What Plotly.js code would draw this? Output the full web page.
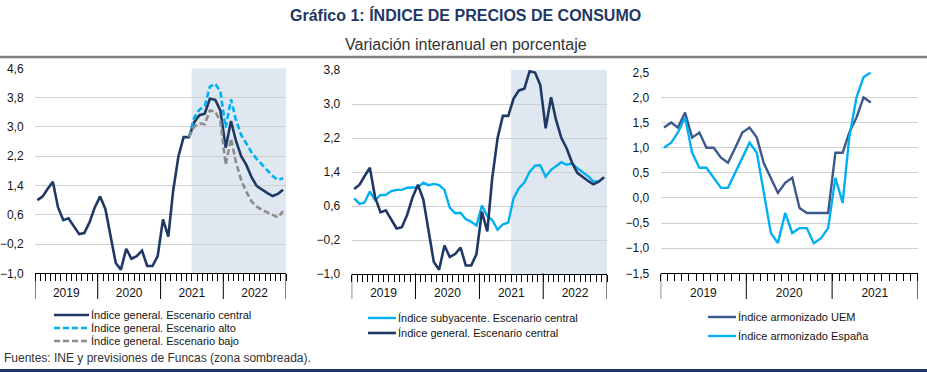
<!DOCTYPE html>
<html><head><meta charset="utf-8">
<script src="https://cdn.plot.ly/plotly-3.0.1.min.js"></script>
<style>html,body{margin:0;padding:0;background:#fff}#chart{width:927px;height:372px}</style>
</head><body><div id="chart"></div>
<script>
// ---------- DATA ----------
const years12 = ['2019', '2020', '2021', '2022'];
const years3 = ['2019', '2020', '2021'];
const forecastStart = '2021-07';   // first forecast month (shaded zone)
const scenarioStart = '2021-06';   // scenarios start from last observed month

// Índice general, escenario central (Jan 2019 - Dec 2022)
const generalCentral = [1.0, 1.1, 1.3, 1.5, 0.8, 0.45, 0.5, 0.3, 0.07, 0.1, 0.4, 0.8,
  1.1, 0.75, 0.0, -0.72, -0.9, -0.33, -0.6, -0.53, -0.38, -0.8, -0.8, -0.53,
  0.47, 0.0, 1.25, 2.2, 2.72, 2.72, 3.12, 3.32, 3.36, 3.77, 3.74, 3.45,
  2.43, 3.16, 2.63, 2.2, 1.96, 1.62, 1.38, 1.28, 1.19, 1.11, 1.17, 1.28];
// Escenario alto (from Jun 2021)
const generalAlto = [2.72, 3.25, 3.47, 3.57, 4.1, 4.18, 3.97, 2.98, 3.75, 3.2, 2.78, 2.55,
  2.3, 2.12, 1.97, 1.83, 1.66, 1.55, 1.6];
// Escenario bajo (from Jun 2021)
const generalBajo = [2.72, 3.0, 3.1, 3.07, 3.45, 3.42, 3.15, 1.97, 2.68, 2.05, 1.55, 1.23,
  0.96, 0.82, 0.73, 0.66, 0.58, 0.53, 0.7];
// Índice subyacente, escenario central (Jan 2019 - Dec 2022)
const subyacente = [0.78, 0.65, 0.68, 0.94, 0.74, 0.86, 0.86, 0.95, 0.98, 0.98, 1.03, 1.03,
  1.04, 1.15, 1.09, 1.12, 1.09, 0.98, 0.56, 0.43, 0.44, 0.29, 0.23, 0.14,
  0.61, 0.36, 0.27, 0.04, 0.17, 0.21, 0.78, 1.02, 1.15, 1.4, 1.55, 1.56,
  1.29, 1.45, 1.53, 1.63, 1.57, 1.6, 1.49, 1.4, 1.3, 1.18, 1.18, 1.27];
// IPCA UEM y España (Jan 2019 - Jun 2021)
const ipcaUEM = [1.4, 1.5, 1.4, 1.7, 1.2, 1.3, 1.0, 1.0, 0.8, 0.7, 1.0, 1.3,
  1.4, 1.2, 0.7, 0.4, 0.1, 0.3, 0.4, -0.2, -0.3, -0.3, -0.3, -0.3,
  0.9, 0.9, 1.3, 1.6, 2.0, 1.9];
const ipcaEspana = [1.0, 1.1, 1.3, 1.6, 0.9, 0.6, 0.6, 0.4, 0.2, 0.2, 0.5, 0.8,
  1.1, 0.9, 0.1, -0.7, -0.9, -0.3, -0.7, -0.6, -0.6, -0.9, -0.8, -0.6,
  0.4, -0.1, 1.2, 2.0, 2.4, 2.5];

// ---------- HELPERS ----------
function monthList(y0, n) {
  const out = [];
  for (let i = 0; i < n; i++) {
    const y = y0 + Math.floor(i / 12), m = (i % 12) + 1;
    out.push(y + '-' + String(m).padStart(2, '0'));
  }
  return out;
}
const months = monthList(2019, 48);
const mid = m => m + '-15';
const xAll = months.map(mid);
const scenIdx = months.indexOf(scenarioStart);
const xScen = months.slice(scenIdx).map(mid);
const x3 = months.slice(0, ipcaUEM.length).map(mid);

const W = 927, H = 372;
const FONT = 'Liberation Sans, Arial, sans-serif';
const TXT = '#141414';
const NAVY = '#1f3864', LIGHT = '#00b0f0', GREY = '#8c8c8c', UEM = '#3b5a8a';
const AXIS_Y = 273.3;    // pixel row of x axes
const SEP_Y = 299;       // bottom of year separators

const yearBounds = yrs => yrs.map(y => y + '-01-01').concat([(+yrs[yrs.length - 1] + 1) + '-01-01']);

function mainX(domain, yrs, yname) {
  const b = yearBounds(yrs);
  return {
    domain: domain, anchor: yname, type: 'date', range: [b[0], b[b.length - 1]],
    showgrid: false, zeroline: false, showline: true, linecolor: '#000', linewidth: 1,
    tickmode: 'linear', tick0: yrs[0] + '-07-02', dtick: 'M12', tickformat: '%Y',
    ticks: 'outside', ticklen: 8, tickcolor: 'rgba(0,0,0,0)',
    tickfont: {family: FONT, size: 12, color: TXT}, fixedrange: true,
    minor: {ticks: 'outside', ticklen: 7, tickwidth: 1, tickcolor: '#000', dtick: 'M1',
      tick0: b[0], showgrid: false}
  };
}
function yAx(domain, range, dtick, xname) {
  return {
    domain: domain, anchor: xname, range: range, tick0: range[0], dtick: dtick, tickformat: '.1f',
    showgrid: true, gridcolor: '#d0d0d0', gridwidth: 1, zeroline: false, showline: false,
    ticks: 'outside', ticklen: 8, tickcolor: 'rgba(0,0,0,0)',
    tickfont: {family: FONT, size: 12, color: TXT}, fixedrange: true
  };
}
const dx = (a, b) => [a / W, b / W];
const dy = (top, bottom) => [1 - bottom / H, 1 - top / H];
const py = p => 1 - p / H;

const traces = [
  {x: xAll, y: generalCentral, xaxis: 'x', yaxis: 'y',
   name: 'Índice general. Escenario central', line: {color: NAVY, width: 2.6}},
  {x: xScen, y: generalAlto, xaxis: 'x', yaxis: 'y',
   name: 'Índice general. Escenario alto', line: {color: LIGHT, width: 2.6, dash: '6px,3px'}},
  {x: xScen, y: generalBajo, xaxis: 'x', yaxis: 'y',
   name: 'Índice general. Escenario bajo', line: {color: GREY, width: 2.6, dash: '6px,3px'}},
  {x: xAll, y: subyacente, xaxis: 'x2', yaxis: 'y2',
   name: 'Índice subyacente. Escenario central', line: {color: LIGHT, width: 2.4}},
  {x: xAll, y: generalCentral, xaxis: 'x2', yaxis: 'y2',
   name: 'Índice general. Escenario central', line: {color: NAVY, width: 2.6}},
  {x: x3, y: ipcaUEM, xaxis: 'x3', yaxis: 'y3',
   name: 'Índice armonizado UEM', line: {color: UEM, width: 2.4}},
  {x: x3, y: ipcaEspana, xaxis: 'x3', yaxis: 'y3',
   name: 'Índice armonizado España', line: {color: LIGHT, width: 2.4}}
].map(t => Object.assign({type: 'scatter', mode: 'lines', showlegend: false}, t));

const shapes = [
  {type: 'rect', xref: 'x', yref: 'y domain', x0: forecastStart + '-01', x1: '2023-01-01',
   y0: 0, y1: 1, fillcolor: '#dfe8f1', line: {width: 0}, layer: 'below'},
  {type: 'rect', xref: 'x2', yref: 'y2 domain', x0: forecastStart + '-01', x1: '2023-01-01',
   y0: 0, y1: 1, fillcolor: '#dfe8f1', line: {width: 0}, layer: 'below'},
  {type: 'line', xref: 'paper', yref: 'paper', x0: 0, x1: 1, y0: py(57), y1: py(57),
   line: {color: '#7f7f7f', width: 2.5}},
  {type: 'line', xref: 'paper', yref: 'paper', x0: 0, x1: 1, y0: py(370.5), y1: py(370.5),
   line: {color: NAVY, width: 3}}
];
// year separators (long ticks under each x axis)
[['x', years12], ['x2', years12], ['x3', years3]].forEach(([xr, yrs]) => {
  yearBounds(yrs).forEach(b => shapes.push({type: 'line', xref: xr, yref: 'paper',
    x0: b, x1: b, y0: py(AXIS_Y), y1: py(SEP_Y), line: {color: '#000', width: 1}}));
});

const annotations = [
  {text: '<b>Gráfico 1: ÍNDICE DE PRECIOS DE CONSUMO</b>', xref: 'paper', yref: 'paper',
   x: 466 / W, y: py(15), xanchor: 'center', yanchor: 'middle', showarrow: false,
   font: {family: 'Liberation Sans Narrow, Arial Narrow, Liberation Sans, Arial', size: 16, color: NAVY}},
  {text: 'Variación interanual en porcentaje', xref: 'paper', yref: 'paper',
   x: 466 / W, y: py(44), xanchor: 'center', yanchor: 'middle', showarrow: false,
   font: {family: 'Liberation Sans Narrow, Arial Narrow, Liberation Sans, Arial', size: 16, color: '#333'}},
  {text: 'Fuentes: INE y previsiones de Funcas (zona sombreada).', xref: 'paper', yref: 'paper',
   x: 2 / W, y: py(358), xanchor: 'left', yanchor: 'middle', showarrow: false,
   font: {family: FONT, size: 12, color: '#333'}}
];

// legends: [trace indices, sample x0, sample x1, row y positions]
const legends = [
  {items: [0, 1, 2], x0: 54, x1: 89, rows: [315, 328, 341]},
  {items: [3, 4], x0: 368, x1: 396, rows: [318, 333]},
  {items: [5, 6], x0: 708, x1: 736, rows: [317, 336]}
];
legends.forEach(lg => lg.items.forEach((ti, k) => {
  const t = traces[ti], yy = py(lg.rows[k]);
  shapes.push({type: 'line', xref: 'paper', yref: 'paper', x0: lg.x0 / W, x1: lg.x1 / W,
    y0: yy, y1: yy, line: {color: t.line.color, width: t.line.width, dash: t.line.dash || 'solid'}});
  annotations.push({text: t.name, xref: 'paper', yref: 'paper', x: (lg.x1 + 1) / W, y: yy,
    xanchor: 'left', yanchor: 'middle', showarrow: false, xshift: -1,
    font: {family: FONT, size: 11, color: TXT}});
}));

const layout = {
  width: W, height: H, margin: {l: 0, r: 0, t: 0, b: 0},
  paper_bgcolor: '#fff', plot_bgcolor: 'rgba(0,0,0,0)', separators: ',.',
  font: {family: FONT, size: 12, color: TXT}, showlegend: false,
  xaxis: mainX(dx(35, 286), years12, 'y'),
  xaxis2: mainX(dx(351.7, 607), years12, 'y2'),
  xaxis3: mainX(dx(660.7, 917.7), years3, 'y3'),
  yaxis: yAx(dy(68.3, AXIS_Y), [-1, 4.6], 0.8, 'x'),
  yaxis2: yAx(dy(70, 274), [-1, 3.8], 0.8, 'x2'),
  yaxis3: yAx(dy(72.3, AXIS_Y), [-1.5, 2.5], 0.5, 'x3'),
  shapes: shapes, annotations: annotations
};

Plotly.newPlot('chart', traces, layout, {displayModeBar: false, staticPlot: true});
</script>
</body></html>
